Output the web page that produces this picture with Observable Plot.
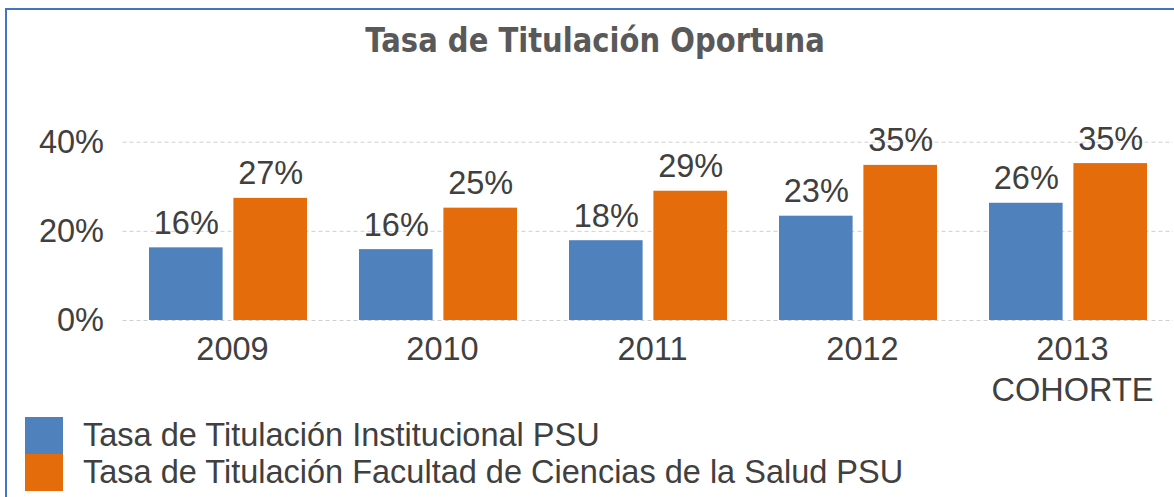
<!DOCTYPE html>
<html>
<head>
<meta charset="utf-8">
<script src="https://cdn.jsdelivr.net/npm/d3@7"></script>
<script src="https://cdn.jsdelivr.net/npm/@observablehq/plot@0.6"></script>
<style>
  body { margin: 0; background: #fff; width: 1174px; height: 497px; overflow: hidden; position: relative; font-family: "Liberation Sans", Arial, sans-serif; }
  #frame { position: absolute; left: 5px; top: 8px; width: 1300px; height: 600px; border-left: 2px solid #4472C4; border-top: 2px solid #4472C4; }
  #title { position: absolute; left: 0; width: 1190px; top: 24px; text-align: center; font: bold 33px/1 "DejaVu Sans", sans-serif; color: #595959; transform: scaleX(0.88); transform-origin: 595px 0; white-space: nowrap; }
  #chart { position: absolute; left: 0; top: 0; }
  #legend { position: absolute; left: 25px; top: 417px; }
  .item { display: flex; align-items: center; height: 37px; }
  .sw { width: 38px; height: 37px; flex: none; }
  .lab { margin-left: 20px; font-size: 32.5px; color: #404040; white-space: nowrap; }
</style>
</head>
<body>
<div id="frame"></div>
<div id="title">Tasa de Titulación Oportuna</div>
<div id="chart"></div>
<div id="legend"></div>
<script>
const titleText = "Tasa de Titulación Oportuna";
const categories = ["2009", "2010", "2011", "2012", "2013\nCOHORTE"];
const seriesNames = [
  "Tasa de Titulación Institucional PSU",
  "Tasa de Titulación Facultad de Ciencias de la Salud PSU"
];
const institucional = [16.3, 15.9, 17.9, 23.4, 26.3];
const facultad = [27.4, 25.2, 29.0, 34.8, 35.2];
const seriesColors = ["#4F81BD", "#E46C0A"];
const yTicks = [0, 20, 40];

const rowsA = categories.map((c, i) => ({cat: c, value: institucional[i], series: seriesNames[0]}));
const rowsB = categories.map((c, i) => ({cat: c, value: facultad[i], series: seriesNames[1]}));

const fs = 32.5;
const halfOffset = 42.2;
const inset = 84.4;

const chart = Plot.plot({
  width: 1174,
  height: 400,
  marginLeft: 122.5,
  marginRight: 1,
  marginTop: 141.7,
  marginBottom: 80,
  style: {fontFamily: "Liberation Sans, Arial, sans-serif", color: "#404040", background: "transparent", overflow: "visible"},
  x: {domain: categories, paddingInner: 0.246, paddingOuter: 0.123},
  y: {domain: [0, 40]},
  marks: [
    Plot.ruleY(yTicks, {stroke: "#d0d0d0", strokeDasharray: "4,3", strokeWidth: 1}),
    Plot.axisY(yTicks, {tickSize: 0, tickPadding: 19, tickFormat: d => d + "%", fontSize: fs, label: null}),
    Plot.axisX({tickSize: 0, tickPadding: 10.7, fontSize: fs, lineHeight: 1.25, dx: 4, label: null}),
    Plot.barY(rowsA, {x: "cat", y: "value", fill: seriesColors[0], insetLeft: 0, insetRight: inset}),
    Plot.barY(rowsB, {x: "cat", y: "value", fill: seriesColors[1], insetLeft: inset, insetRight: 0}),
    Plot.text(rowsA, {x: "cat", y: "value", text: d => Math.round(d.value) + "%", dx: -halfOffset, dy: -14, lineAnchor: "bottom", fontSize: fs}),
    Plot.text(rowsB, {x: "cat", y: "value", text: d => Math.round(d.value) + "%", dx: halfOffset, dy: -14, lineAnchor: "bottom", fontSize: fs})
  ]
});
document.getElementById("chart").appendChild(chart);

const legend = document.getElementById("legend");
seriesNames.forEach((name, i) => {
  const item = document.createElement("div");
  item.className = "item";
  const sw = document.createElement("div");
  sw.className = "sw";
  sw.style.background = seriesColors[i];
  const lab = document.createElement("div");
  lab.className = "lab";
  lab.textContent = name;
  item.appendChild(sw);
  item.appendChild(lab);
  legend.appendChild(item);
});
</script>
</body>
</html>
